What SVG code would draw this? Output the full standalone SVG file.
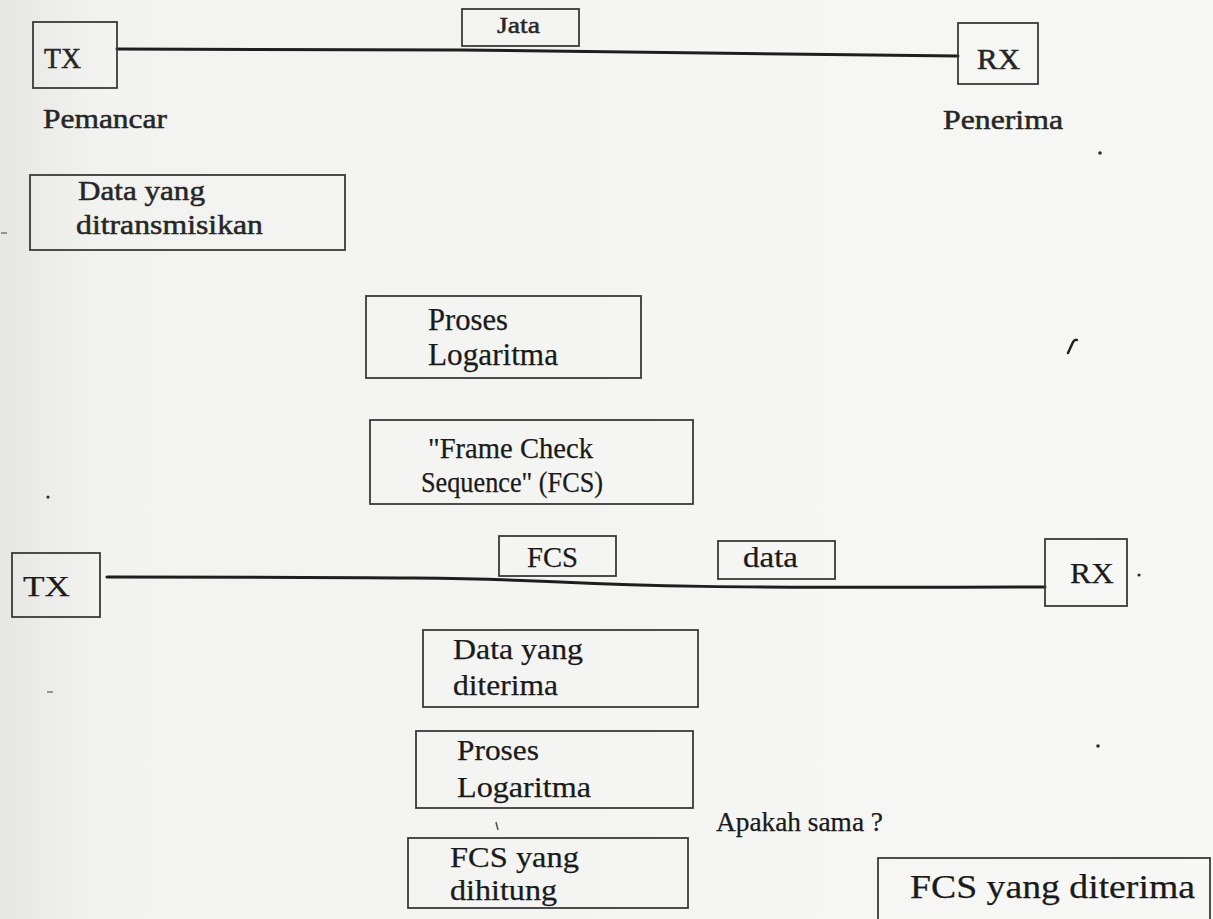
<svg xmlns="http://www.w3.org/2000/svg" width="1213" height="919" viewBox="0 0 1213 919">
  <defs>
    <linearGradient id="paper" x1="0" y1="0" x2="1" y2="0">
      <stop offset="0" stop-color="#e6e6e3"/>
      <stop offset="0.08" stop-color="#f2f2f0"/>
      <stop offset="1" stop-color="#f7f7f5"/>
    </linearGradient>
    <style>
      .box { fill: none; stroke: #3a3a3a; stroke-width: 1.8; }
      .t { font-family: "Liberation Serif", "Times New Roman", serif; fill: #1a1a1a; stroke: #1a1a1a; stroke-width: 0.25; }
      .top { fill: #262626; stroke: #262626; stroke-width: 0.5; }
      .wire { fill: none; stroke: #1e1e1e; stroke-width: 3; stroke-linecap: round; }
      .speck { fill: #2a2a2a; }
    </style>
  </defs>

  <rect x="0" y="0" width="1213" height="919" fill="url(#paper)"/>

  <!-- transmission links -->
  <g id="connectors">
    <path class="wire" d="M117,49 L460,50 L958,56"/>
    <path class="wire" d="M107,577 C400,577 480,578 560,582 S700,588 1045,587"/>
  </g>

  <!-- upper link: sender, frame, receiver -->
  <g id="tx1">
    <rect class="box" x="33" y="22" width="84" height="66"/>
    <text class="t top" x="44" y="68" font-size="29" textLength="37" lengthAdjust="spacingAndGlyphs">TX</text>
  </g>
  <g id="frame1">
    <rect class="box" x="462" y="9" width="117" height="37"/>
    <text class="t top" x="497" y="33" font-size="24" textLength="43" lengthAdjust="spacingAndGlyphs">Jata</text>
  </g>
  <g id="rx1">
    <rect class="box" x="958" y="23" width="80" height="61"/>
    <text class="t top" x="977" y="69" font-size="29" textLength="43" lengthAdjust="spacingAndGlyphs">RX</text>
  </g>
  <g id="label-pemancar">
    <text class="t top" x="43" y="128" font-size="27" textLength="124" lengthAdjust="spacingAndGlyphs">Pemancar</text>
  </g>
  <g id="label-penerima">
    <text class="t top" x="943" y="129" font-size="27" textLength="120" lengthAdjust="spacingAndGlyphs">Penerima</text>
  </g>

  <!-- sender side processing -->
  <g id="data-tx">
    <rect class="box" x="30" y="175" width="315" height="75"/>
    <text class="t top" x="78" y="200" font-size="28" textLength="127" lengthAdjust="spacingAndGlyphs">Data yang</text>
    <text class="t top" x="76" y="234" font-size="28" textLength="187" lengthAdjust="spacingAndGlyphs">ditransmisikan</text>
  </g>
  <g id="proc-tx">
    <rect class="box" x="366" y="296" width="275" height="82"/>
    <text class="t" x="428" y="330" font-size="31" textLength="80" lengthAdjust="spacingAndGlyphs">Proses</text>
    <text class="t" x="428" y="365" font-size="31" textLength="130" lengthAdjust="spacingAndGlyphs">Logaritma</text>
  </g>
  <g id="fcs-tx">
    <rect class="box" x="370" y="420" width="323" height="84"/>
    <text class="t" x="428" y="458" font-size="30" textLength="165" lengthAdjust="spacingAndGlyphs">"Frame Check</text>
    <text class="t" x="421" y="492" font-size="30" textLength="182" lengthAdjust="spacingAndGlyphs">Sequence" (FCS)</text>
  </g>

  <!-- lower link: frame with check sequence -->
  <g id="tx2">
    <rect class="box" x="12" y="553" width="88" height="64"/>
    <text class="t" x="23" y="596" font-size="30" textLength="47" lengthAdjust="spacingAndGlyphs">TX</text>
  </g>
  <g id="frame2-fcs">
    <rect class="box" x="499" y="536" width="117" height="40"/>
    <text class="t" x="527" y="567" font-size="30" textLength="51" lengthAdjust="spacingAndGlyphs">FCS</text>
  </g>
  <g id="frame2-data">
    <rect class="box" x="718" y="541" width="117" height="38"/>
    <text class="t" x="743" y="567" font-size="29" textLength="55" lengthAdjust="spacingAndGlyphs">data</text>
  </g>
  <g id="rx2">
    <rect class="box" x="1045" y="539" width="82" height="67"/>
    <text class="t" x="1070" y="583" font-size="30" textLength="44" lengthAdjust="spacingAndGlyphs">RX</text>
  </g>

  <!-- receiver side processing -->
  <g id="data-rx">
    <rect class="box" x="423" y="630" width="275" height="77"/>
    <text class="t" x="453" y="659" font-size="30" textLength="130" lengthAdjust="spacingAndGlyphs">Data yang</text>
    <text class="t" x="453" y="695" font-size="30" textLength="105" lengthAdjust="spacingAndGlyphs">diterima</text>
  </g>
  <g id="proc-rx">
    <rect class="box" x="416" y="731" width="277" height="77"/>
    <text class="t" x="457" y="760" font-size="30" textLength="82" lengthAdjust="spacingAndGlyphs">Proses</text>
    <text class="t" x="457" y="797" font-size="30" textLength="134" lengthAdjust="spacingAndGlyphs">Logaritma</text>
  </g>
  <g id="fcs-calc">
    <rect class="box" x="408" y="838" width="280" height="70"/>
    <text class="t" x="450" y="867" font-size="30" textLength="129" lengthAdjust="spacingAndGlyphs">FCS yang</text>
    <text class="t" x="450" y="900" font-size="30" textLength="107" lengthAdjust="spacingAndGlyphs">dihitung</text>
  </g>
  <g id="compare">
    <text class="t" x="716" y="831" font-size="27" textLength="167" lengthAdjust="spacingAndGlyphs">Apakah sama ?</text>
  </g>
  <g id="fcs-rx">
    <rect class="box" x="878" y="858" width="332" height="80"/>
    <text class="t" x="910" y="898" font-size="33" textLength="285" lengthAdjust="spacingAndGlyphs">FCS yang diterima</text>
  </g>

  <!-- stray print marks -->
  <g id="marks">
    <circle class="speck" cx="1100" cy="153" r="1.8"/>
    <path d="M1068,353 L1073,342 Q1075,339 1077,340" fill="none" stroke="#222" stroke-width="2.5" stroke-linecap="round"/>
    <circle class="speck" cx="48" cy="497" r="1.6"/>
    <circle class="speck" cx="1139" cy="575" r="1.6"/>
    <circle class="speck" cx="1098" cy="746" r="1.8"/>
    <path d="M496,822 L498,830" stroke="#555" stroke-width="1.5"/>
    <path d="M1,233 L7,233" stroke="#777" stroke-width="1.5"/>
    <path d="M47,692 L53,692" stroke="#777" stroke-width="1.5"/>
  </g>
</svg>
